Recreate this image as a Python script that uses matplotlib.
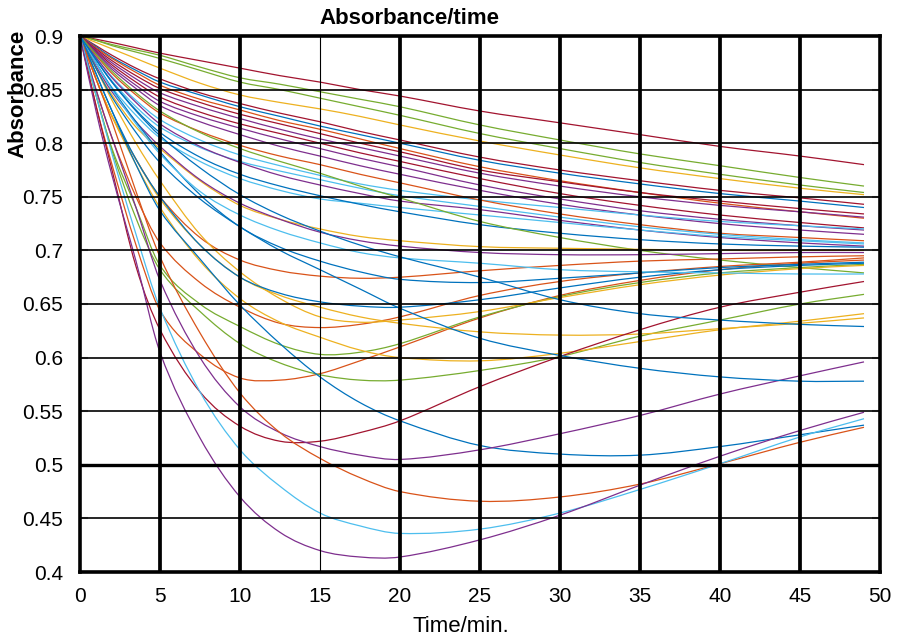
import matplotlib
matplotlib.use("Agg")
import matplotlib.pyplot as plt
from matplotlib.path import Path
from matplotlib.patches import PathPatch

plt.rcParams['font.family'] = ['Liberation Sans', 'DejaVu Sans']

# time samples (min)
time_min = [0, 1, 2, 3.5, 5, 7.5, 10, 12.5, 15, 17.5, 20, 25, 30, 35, 40, 45, 49]

# absorbance curves
u1 = [.900, .897, .894, .889, .884, .877, .870, .863, .857, .850, .844, .830, .819, .808, .797, .788, .780]
u2 = [.900, .896, .892, .887, .882, .871, .861, .855, .848, .841, .834, .817, .803, .790, .779, .768, .760]
u3 = [.900, .896, .891, .885, .879, .868, .857, .850, .842, .834, .826, .809, .795, .782, .771, .761, .754]
u4 = [.900, .894, .888, .879, .870, .856, .845, .838, .832, .825, .817, .802, .789, .777, .767, .758, .752]
u5 = [.900, .891, .882, .870, .860, .847, .837, .828, .820, .811, .803, .787, .775, .765, .756, .749, .743]
u6 = [.900, .890, .880, .868, .857, .845, .834, .825, .816, .808, .800, .784, .772, .762, .753, .746, .740]
u7 = [.900, .889, .879, .866, .854, .841, .831, .821, .813, .804, .795, .778, .765, .754, .744, .736, .730]
u8 = [.900, .888, .877, .863, .851, .838, .827, .818, .809, .800, .792, .775, .764, .754, .746, .739, .734]
u9 = [.900, .887, .875, .860, .847, .834, .823, .813, .804, .796, .788, .772, .760, .750, .742, .736, .731]
u10 = [.900, .886, .873, .857, .843, .829, .818, .809, .800, .791, .783, .767, .753, .742, .733, .726, .721]
u11 = [.900, .885, .871, .854, .839, .825, .814, .804, .795, .786, .778, .761, .748, .737, .729, .723, .719]
u12 = [.900, .884, .869, .851, .835, .820, .808, .797, .788, .779, .771, .756, .743, .733, .725, .719, .715]
u13 = [.900, .880, .862, .840, .822, .803, .789, .779, .770, .762, .756, .747, .740, .733, .727, .723, .720]
u14 = [.900, .882, .865, .845, .828, .811, .798, .788, .780, .771, .763, .747, .734, .724, .716, .712, .709]
u15 = [.900, .878, .858, .834, .815, .796, .783, .774, .766, .758, .751, .741, .731, .722, .715, .710, .707]
u16 = [.900, .880, .861, .838, .818, .797, .782, .770, .761, .753, .746, .738, .728, .719, .712, .707, .704]
u17 = [.900, .875, .852, .826, .805, .783, .767, .756, .748, .744, .740, .733, .726, .719, .713, .709, .706]
u18 = [.900, .878, .857, .831, .810, .787, .771, .760, .751, .743, .736, .724, .716, .710, .706, .704, .703]
g_desc = [.900, .883, .867, .847, .830, .810, .795, .783, .772, .760, .749, .727, .712, .700, .691, .684, .679]
y_flat = [.900, .870, .845, .815, .795, .765, .742, .729, .720, .713, .709, .7035, .702, .701, .700, .700, .700]
p_flat = [.900, .872, .848, .820, .797, .766, .744, .729, .717, .709, .704, .698, .696, .696, .697, .698, .698]
o_mid = [.900, .860, .825, .785, .750, .712, .691, .681, .676, .674, .675, .681, .686, .690, .692, .694, .695]
o_min63 = [.900, .850, .805, .750, .707, .670, .647, .632, .628, .631, .638, .658, .671, .679, .685, .689, .693]
o_min58 = [.900, .835, .780, .705, .644, .603, .581, .579, .585, .597, .610, .637, .658, .672, .682, .688, .691]
g_min60 = [.900, .845, .795, .740, .686, .650, .629, .612, .603, .605, .613, .638, .657, .670, .679, .684, .687]
g_min58 = [.900, .845, .793, .730, .682, .643, .613, .595, .584, .579, .579, .588, .601, .620, .635, .650, .659]
y_min60 = [.900, .860, .825, .780, .740, .690, .655, .633, .619, .607, .600, .597, .604, .615, .626, .634, .641]
y_min62 = [.900, .860, .825, .785, .748, .705, .675, .658, .647, .638, .632, .624, .621, .622, .627, .632, .637]
y_min63 = [.900, .870, .840, .800, .765, .715, .680, .655, .638, .633, .635, .643, .656, .668, .677, .683, .686]
b_min67 = [.900, .875, .851, .820, .792, .752, .722, .703, .690, .680, .673, .670, .674, .679, .684, .687, .689]
b_min65 = [.900, .865, .830, .785, .750, .705, .675, .660, .652, .648, .647, .654, .665, .675, .682, .686, .688]
lb_mid = [.900, .875, .850, .818, .790, .755, .733, .718, .707, .698, .693, .688, .682, .680, .679, .678, .678]
dr_min52 = [.900, .835, .775, .685, .626, .568, .536, .522, .522, .530, .541, .573, .601, .626, .647, .661, .671]
b_min51 = [.900, .865, .830, .780, .737, .692, .649, .613, .582, .558, .541, .518, .510, .509, .517, .528, .537]
p_min50 = [.900, .850, .805, .740, .672, .600, .554, .530, .517, .509, .505, .514, .529, .546, .566, .583, .596]
o_min47 = [.900, .860, .820, .755, .694, .623, .567, .530, .506, .488, .475, .466, .470, .482, .501, .521, .535]
lb_min44 = [.900, .845, .790, .715, .646, .568, .514, .480, .455, .443, .436, .440, .455, .477, .501, .526, .543]
p_min41 = [.900, .830, .770, .690, .605, .525, .470, .437, .420, .414, .414, .430, .453, .481, .508, .532, .549]
b_desc63 = [.900, .878, .857, .830, .807, .777, .752, .733, .718, .705, .694, .675, .654, .641, .635, .631, .629]
b_desc58 = [.900, .870, .843, .810, .782, .748, .722, .700, .682, .664, .646, .618, .602, .590, .582, .578, .578]

palette = {
    'blue': '#0072BD', 'orange': '#D95319', 'yellow': '#EDB120', 'purple': '#7E2F8E',
    'green': '#77AC30', 'lightblue': '#4DBEEE', 'darkred': '#A2142F',
}

curves = [
    (u1, 'darkred'), (u2, 'green'), (u3, 'green'), (u4, 'yellow'), (u5, 'darkred'),
    (u6, 'blue'), (u7, 'orange'), (u8, 'darkred'), (u9, 'purple'), (u10, 'darkred'),
    (u11, 'purple'), (u12, 'purple'), (u13, 'lightblue'), (u14, 'orange'), (u15, 'lightblue'),
    (u16, 'purple'), (u17, 'lightblue'), (u18, 'blue'), (g_desc, 'green'), (y_flat, 'yellow'),
    (p_flat, 'purple'), (o_mid, 'orange'), (o_min63, 'orange'), (o_min58, 'orange'),
    (g_min60, 'green'), (g_min58, 'green'), (y_min60, 'yellow'), (y_min62, 'yellow'),
    (y_min63, 'yellow'), (b_min67, 'blue'), (b_min65, 'blue'), (lb_mid, 'lightblue'),
    (dr_min52, 'darkred'), (b_min51, 'blue'), (p_min50, 'purple'), (o_min47, 'orange'),
    (lb_min44, 'lightblue'), (p_min41, 'purple'), (b_desc63, 'blue'), (b_desc58, 'blue'),
]

x_ticks = [0, 5, 10, 15, 20, 25, 30, 35, 40, 45, 50]
y_ticks = [0.4, 0.45, 0.5, 0.55, 0.6, 0.65, 0.7, 0.75, 0.8, 0.85, 0.9]
y_tick_labels = ['0.4', '0.45', '0.5', '0.55', '0.6', '0.65', '0.7', '0.75', '0.8', '0.85', '0.9']


def smooth_path(t, y):
    """Bezier path passing through every read point (Catmull-Rom style tangents)."""
    n = len(t)
    slopes = []
    for i in range(n):
        if i == 0:
            slopes.append((y[1] - y[0]) / (t[1] - t[0]))
        elif i == n - 1:
            slopes.append((y[-1] - y[-2]) / (t[-1] - t[-2]))
        else:
            slopes.append((y[i + 1] - y[i - 1]) / (t[i + 1] - t[i - 1]))
    verts = [(t[0], y[0])]
    codes = [Path.MOVETO]
    for i in range(n - 1):
        h = t[i + 1] - t[i]
        verts += [(t[i] + h / 3, y[i] + slopes[i] * h / 3),
                  (t[i + 1] - h / 3, y[i + 1] - slopes[i + 1] * h / 3),
                  (t[i + 1], y[i + 1])]
        codes += [Path.CURVE4] * 3
    return Path(verts, codes)


fig = plt.figure(figsize=(8.99, 6.36), dpi=100)
ax = fig.add_axes([80 / 899, 1 - 572 / 636, 800 / 899, 536 / 636])

for vals, cname in curves:
    patch = PathPatch(smooth_path(time_min, vals), facecolor='none',
                      edgecolor=palette[cname], lw=0.9, zorder=2)
    ax.add_patch(patch)

for xv in x_ticks[1:-1]:
    ax.axvline(xv, color='black', lw=0.8 if xv == 15 else 2.7, zorder=3)
for yv in y_ticks[1:-1]:
    ax.axhline(yv, color='black', lw=2.4 if abs(yv - 0.5) < 1e-9 else 1.2, zorder=3)

ax.set_xlim(0, 50)
ax.set_ylim(0.4, 0.9)
ax.set_xticks(x_ticks)
ax.set_xticklabels([str(v) for v in x_ticks])
ax.set_yticks(y_ticks)
ax.set_yticklabels(y_tick_labels)

for sp in ax.spines.values():
    sp.set_linewidth(2.6)
    sp.set_zorder(4)

ax.tick_params(axis='y', direction='in', length=6, width=1.5, color='#999999',
               left=True, right=True, pad=12, labelsize=15)
ax.tick_params(axis='x', direction='in', length=0, pad=11, labelsize=15)

fig.text(409 / 899, 1 - 19 / 636, 'Absorbance/time', ha='center', va='center',
         fontsize=16, fontweight='bold')
fig.text(461 / 899, 1 - 626 / 636, 'Time/min.', ha='center', va='center', fontsize=16)
fig.text(18 / 899, 1 - 94 / 636, 'Absorbance', ha='center', va='center', rotation=90,
         fontsize=16, fontweight='bold')

fig.savefig('out.png', dpi=100)
